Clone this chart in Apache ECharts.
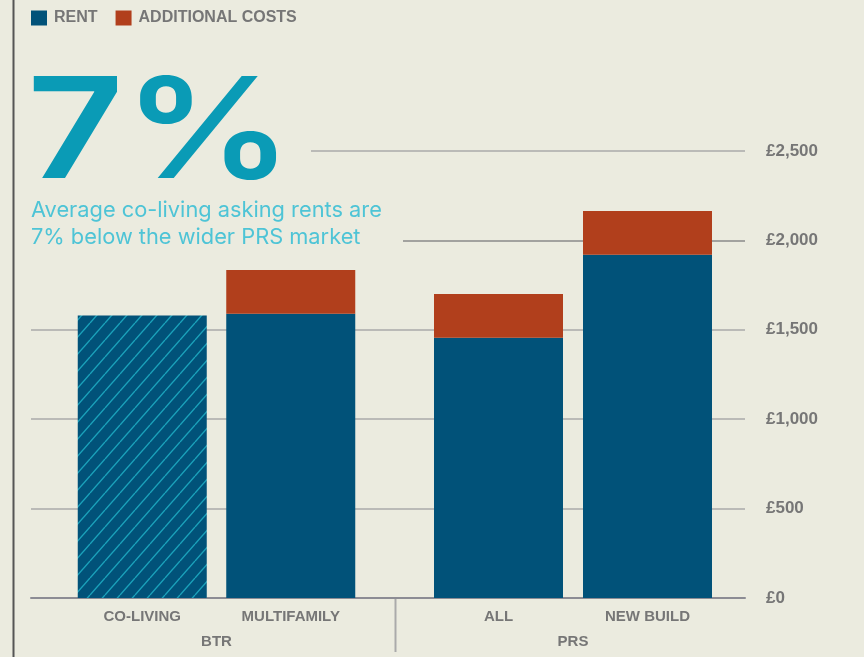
<!DOCTYPE html>
<html>
<head>
<meta charset="utf-8">
<script src="https://cdn.jsdelivr.net/npm/echarts@6/dist/echarts.min.js"></script>
<style>
  html, body { margin: 0; padding: 0; background: #ebebdf; }
  #chart { width: 864px; height: 657px; }
</style>
</head>
<body>
<div id="chart"></div>
<script>
// ---- data ----
const btrCategories = ['CO-LIVING', 'MULTIFAMILY'];
const prsCategories = ['ALL', 'NEW BUILD'];
const groupLabels = ['BTR', 'PRS'];
const btrRent = [1580, 1590];
const btrAdditional = [null, 245];
const prsRent = [1455, 1920];
const prsAdditional = [245, 245];
const seriesNames = ['RENT', 'ADDITIONAL COSTS'];
const yMin = 0, yMax = 2500, yStep = 500;
const headline = '7%';
const subline = 'Average co-living asking rents are\n7% below the wider PRS market';

// ---- styles ----
const BG = '#ebebdf';
const RENT_COLOR = '#015279';
const ADD_COLOR = '#b13f1c';
const GRAY_TEXT = '#767676';
const GRID_COLOR = '#aaaaaa';
const T = 'rgba(0,0,0,0)';
const LABEL_FONT = "'Liberation Sans', Arial, sans-serif";

function makeHatch() {
  const w = 15, h = 17;
  const c = document.createElement('canvas');
  c.width = w; c.height = h;
  const ctx = c.getContext('2d');
  ctx.fillStyle = RENT_COLOR;
  ctx.fillRect(0, 0, w, h);
  ctx.strokeStyle = '#1ba2bb';
  ctx.lineWidth = 1.4;
  for (const dx of [-w, 0, w]) {
    ctx.beginPath();
    ctx.moveTo(dx, h);
    ctx.lineTo(dx + w, 0);
    ctx.stroke();
  }
  return c;
}
const hatch = { image: makeHatch(), repeat: 'repeat' };

const chart = echarts.init(document.getElementById('chart'), null, { renderer: 'canvas' });

const gTop = 151, gBottom = 59, gRight = 119;
function grid(left, right) { return { left: left, right: right, top: gTop, bottom: gBottom, containLabel: false }; }
function yAx(gridIndex, extra) {
  return Object.assign({
    type: 'value', gridIndex: gridIndex, min: yMin, max: yMax, interval: yStep,
    axisLine: { show: false }, axisTick: { show: false }, axisLabel: { show: false },
    splitLine: { show: false }
  }, extra || {});
}
function hiddenX(gridIndex, extra) {
  return Object.assign({
    type: 'value', gridIndex: gridIndex, min: 0, max: 1,
    axisLine: { show: false }, axisTick: { show: false }, axisLabel: { show: false },
    splitLine: { show: false }
  }, extra || {});
}
function catX(gridIndex, data, margin, extra) {
  return Object.assign({
    type: 'category', gridIndex: gridIndex, data: data, position: 'bottom',
    axisLine: { show: false }, axisTick: { show: false }, splitLine: { show: false },
    axisLabel: { margin: margin, color: GRAY_TEXT, fontFamily: LABEL_FONT, fontWeight: 'bold', fontSize: 15, interval: 0 }
  }, extra || {});
}

const nTicks = Math.round((yMax - yMin) / yStep) + 1;
function lineColors(pred, col) {
  const arr = [];
  for (let i = 0; i < nTicks; i++) arr.push(pred(yMin + i * yStep) ? (col || GRID_COLOR) : T);
  return arr;
}

const option = {
  backgroundColor: BG,
  animation: false,
  legend: {
    data: seriesNames,
    left: 26, top: 5,
    itemWidth: 16, itemHeight: 15, itemGap: 18,
    icon: 'rect',
    selectedMode: false,
    textStyle: { color: GRAY_TEXT, fontFamily: LABEL_FONT, fontWeight: 'bold', fontSize: 16, padding: [3, 0, 0, 2] }
  },
  grid: [
    grid(31, gRight),     // 0: base gridlines + axis labels
    grid(403, gRight),    // 1: 2000 line
    grid(311, gRight),    // 2: 2500 line
    grid(68, 499),        // 3: BTR bars
    grid(424, 142),       // 4: PRS bars
    grid(68, 499),        // 5: BTR group label
    grid(424, 142)        // 6: PRS group label
  ],
  xAxis: [
    hiddenX(0, { axisLine: { show: true, lineStyle: { color: '#8c8c94', width: 2 } } }),
    hiddenX(1),
    hiddenX(2),
    catX(3, btrCategories, 11),
    catX(4, prsCategories, 11),
    catX(5, [groupLabels[0]], 36),
    catX(6, [groupLabels[1]], 36)
  ],
  yAxis: [
    yAx(0, {
      position: 'right',
      axisLabel: {
        show: true, margin: 21, color: GRAY_TEXT, fontFamily: LABEL_FONT, fontWeight: 'bold', fontSize: 17,
        formatter: v => '£' + v.toLocaleString('en-GB'),
        padding: [3, 0, 0, 0]
      },
      splitLine: { show: true, showMinLine: true, showMaxLine: true,
        lineStyle: { width: 1.5, color: lineColors(v => v <= 1500) } }
    }),
    yAx(1, { splitLine: { show: true, showMinLine: true, showMaxLine: true,
        lineStyle: { width: 1.5, color: lineColors(v => v === 2000, '#8a8a8a') } } }),
    yAx(2, { splitLine: { show: true, showMinLine: true, showMaxLine: true,
        lineStyle: { width: 1.5, color: lineColors(v => v === 2500) } } }),
    yAx(3),
    yAx(4),
    yAx(5),
    yAx(6)
  ],
  series: [
    {
      name: seriesNames[0], type: 'bar', xAxisIndex: 3, yAxisIndex: 3, stack: 'btr', barWidth: 129,
      itemStyle: { color: RENT_COLOR },
      data: btrRent.map((v, i) => i === 0 ? { value: v, itemStyle: { color: hatch } } : v)
    },
    {
      name: seriesNames[1], type: 'bar', xAxisIndex: 3, yAxisIndex: 3, stack: 'btr', barWidth: 129,
      itemStyle: { color: ADD_COLOR },
      data: btrAdditional
    },
    {
      name: seriesNames[0], type: 'bar', xAxisIndex: 4, yAxisIndex: 4, stack: 'prs', barWidth: 129,
      itemStyle: { color: RENT_COLOR },
      data: prsRent
    },
    {
      name: seriesNames[1], type: 'bar', xAxisIndex: 4, yAxisIndex: 4, stack: 'prs', barWidth: 129,
      itemStyle: { color: ADD_COLOR },
      data: prsAdditional
    }
  ],
  graphic: [
    { type: 'line', shape: { x1: 13.5, y1: 0, x2: 13.5, y2: 657 }, style: { stroke: '#555555', lineWidth: 2 }, silent: true },
    { type: 'line', shape: { x1: 395.5, y1: 599, x2: 395.5, y2: 652 }, style: { stroke: GRID_COLOR, lineWidth: 2 }, silent: true },
    { type: 'text', x: 27, y: 66, scaleX: 1.2, style: { text: headline, fill: '#0a9bb6', font: "600 140px Inter, 'Noto Sans', sans-serif" }, silent: true },
    { type: 'text', left: 31, top: 197, style: { text: subline, fill: '#4ec4d6', font: "400 21.8px Inter, 'Noto Sans', sans-serif", lineHeight: 27 }, silent: true }
  ]
};
chart.setOption(option);
</script>
</body>
</html>
